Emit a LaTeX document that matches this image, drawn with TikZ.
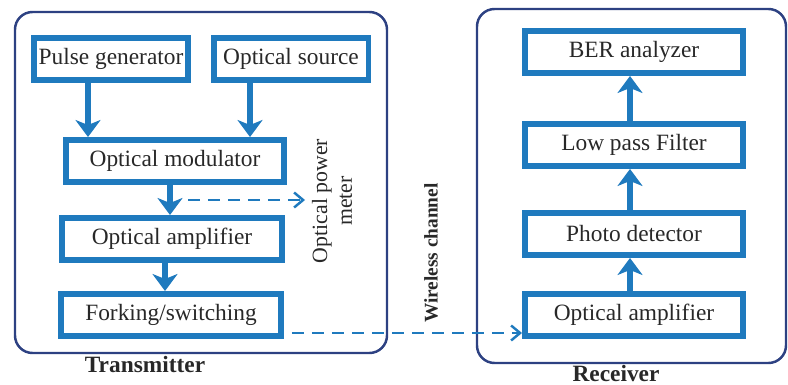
\documentclass[tikz,border=0pt]{standalone}
\usepackage{fontspec}
\setmainfont{Liberation Serif}
\usetikzlibrary{arrows.meta}
\definecolor{boxblue}{RGB}{31,122,190}
\definecolor{frameblue}{RGB}{45,65,130}
\definecolor{ink}{RGB}{40,40,40}

\begin{document}
\begin{tikzpicture}[x=0.02cm,y=-0.02cm,
  blk/.style={draw=boxblue,line width=3.4pt,minimum height=0.84cm,inner sep=0pt,
    text=ink,font=\fontsize{13.3}{16}\selectfont},
  frame/.style={draw=frameblue,line width=1.4pt,rounded corners=0.35cm},
  flow/.style={draw=boxblue,line width=3.8pt,-{Stealth[width=0.5cm,length=0.34cm,inset=0.1cm]}},
  tap/.style={draw=boxblue,line width=1.4pt,dash pattern=on 0.24cm off 0.16cm,
    -{Straight Barb[length=0.18cm,width=0.3cm]}},
  lbl/.style={text=ink,font=\fontsize{13.3}{16}\selectfont\bfseries}]
  \useasboundingbox (0,0) rectangle (788,385);

  \draw[frame] (15,12) rectangle (387,353);
  \draw[frame] (477,9) rectangle (786,363);

  \node[blk,minimum width=3.1cm] (pulse) at (111,59) {Pulse generator};
  \node[blk,minimum width=3.1cm] (source) at (291,59) {Optical source};
  \node[blk,minimum width=4.36cm] (mod) at (175,161) {Optical modulator};
  \node[blk,minimum width=4.42cm] (txamp) at (172,239) {Optical amplifier};
  \node[blk,minimum width=4.42cm] (fork) at (171,315) {Forking/switching};

  \node[blk,minimum width=4.36cm] (ber) at (634,52) {BER analyzer};
  \node[blk,minimum width=4.36cm] (lpf) at (634,145) {Low pass Filter};
  \node[blk,minimum width=4.36cm] (pd) at (634,234) {Photo detector};
  \node[blk,minimum width=4.36cm] (rxamp) at (634,315) {Optical amplifier};

  \draw[flow] ([xshift=-0.46cm]pulse.south) -- ([xshift=-0.46cm]pulse.south |- mod.north);
  \draw[flow] ([xshift=-0.82cm]source.south) -- ([xshift=-0.82cm]source.south |- mod.north);
  \draw[flow] ([xshift=-0.1cm]mod.south) -- ([xshift=-0.1cm]mod.south |- txamp.north);
  \draw[flow] ([xshift=-0.14cm]txamp.south) -- ([xshift=-0.14cm]txamp.south |- fork.north);

  \draw[flow] ([xshift=-0.08cm]rxamp.north) -- ([xshift=-0.08cm]rxamp.north |- pd.south);
  \draw[flow] ([xshift=-0.08cm]pd.north) -- ([xshift=-0.08cm]pd.north |- lpf.south);
  \draw[flow] ([xshift=-0.08cm]lpf.north) -- ([xshift=-0.08cm]lpf.north |- ber.south);

  % power meter tap
  \coordinate (tapin) at (188,200);
  \coordinate (meter) at (305,200);
  \draw[tap] (tapin) -- (meter);
  \node[rotate=90,align=center,text=ink,font=\fontsize{12.4}{14}\selectfont] (meterlbl) at (332,201) {Optical power\\meter};

  % wireless link
  \draw[tap] ([xshift=0.15cm,yshift=-0.36cm]fork.east) -- ([yshift=-0.36cm]rxamp.west);
  \node[lbl,rotate=90,font=\fontsize{11}{13}\selectfont\bfseries] (chan) at (431,253) {Wireless channel};

  \node[lbl] (tx) at (145,365) {Transmitter};
  \node[lbl] (rx) at (616,374) {Receiver};
\end{tikzpicture}
\end{document}
